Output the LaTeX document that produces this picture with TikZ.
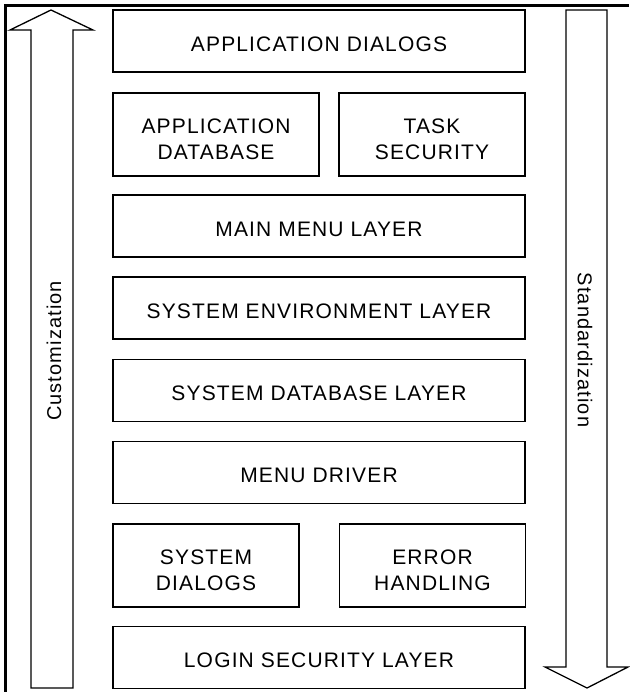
\documentclass[tikz,border=0pt]{standalone}
\usepackage{fontspec}
\setmainfont{Liberation Sans}
\newfontfamily\layerfont[LetterSpace=5.5]{Liberation Sans}
\usetikzlibrary{positioning}

\begin{document}
\begin{tikzpicture}[x=1pt, y=-1pt,
  boxbase/.style={draw, line width=1.5pt, inner sep=0pt, align=center,
    font=\layerfont\fontsize{21}{26}\selectfont},
  layer/.style={boxbase, minimum width=412pt, minimum height=62pt, text height=21pt},
  halfwide/.style={boxbase, minimum width=206pt, minimum height=83pt, text height=49.5pt},
  halfnarrow/.style={boxbase, minimum width=186pt, minimum height=83pt, text height=49.5pt},
  sidetext/.style={font=\layerfont\fontsize{20}{22}\selectfont}]
\useasboundingbox (0,0) rectangle (629,692);

% frame (left and top edges only)
\draw[line width=2.4pt] (5.5,692) -- (5.5,5.5) -- (629,5.5);

% layers, top to bottom
\node[layer] (appdialogs) at (319,41) {APPLICATION DIALOGS};
\node[halfwide] (appdb) at (216,134.5) {APPLICATION\\DATABASE};
\node[halfnarrow] (tasksec) at (432,134.5) {TASK\\SECURITY};
\node[layer] (mainmenu) at (319,226) {MAIN MENU LAYER};
\node[layer] (sysenv) at (319,308) {SYSTEM ENVIRONMENT LAYER};
\node[layer] (sysdb) at (319,390.5) {SYSTEM DATABASE LAYER};
\node[layer] (menudrv) at (319,472.5) {MENU DRIVER};
\node[halfnarrow] (sysdlg) at (206,565.5) {SYSTEM\\DIALOGS};
\node[halfnarrow] (errhdl) at (432.5,565.5) {ERROR\\HANDLING};
\node[layer] (loginsec) at (319,657.5) {LOGIN SECURITY LAYER};

% customization arrow (up)
\draw[line width=1.3pt] (51,10) -- (93,30) -- (73,30) -- (73,688) -- (31,688)
  -- (31,30) -- (10,30) -- cycle;
\node[sidetext, rotate=90] (custom) at (54,351) {Customization};

% standardization arrow (down)
\draw[line width=1.3pt] (566,10) -- (607,10) -- (607,667) -- (628,667) -- (587,688)
  -- (545,667) -- (566,667) -- cycle;
\node[sidetext, rotate=-90] (standard) at (585,350) {Standardization};
\end{tikzpicture}
\end{document}
